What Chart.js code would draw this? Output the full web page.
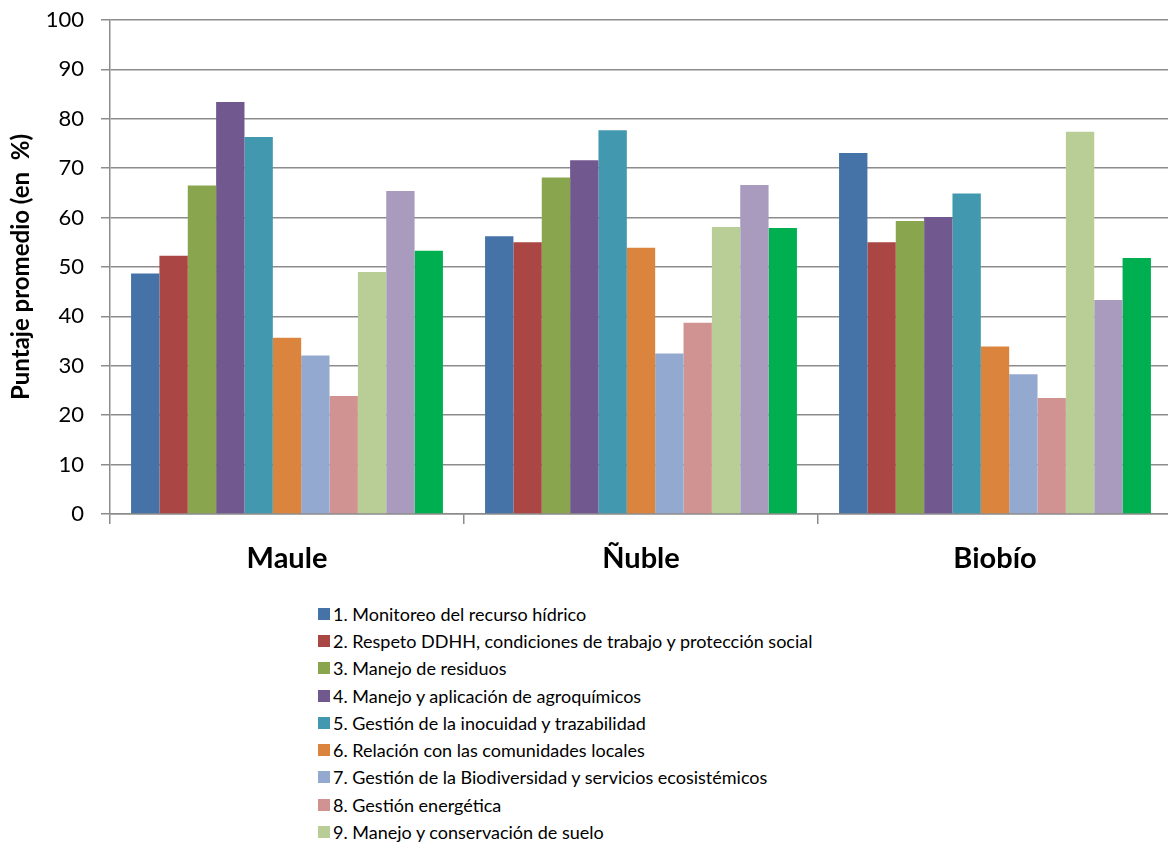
<!DOCTYPE html>
<html lang="es">
<head>
<meta charset="utf-8">
<title>Puntaje promedio por región</title>
<script src="https://cdn.jsdelivr.net/npm/chart.js@4/dist/chart.umd.min.js"></script>
<style>
    html, body { margin: 0; padding: 0; background: #fff; overflow: hidden; }
    #wrap { position: relative; width: 1172px; height: 590px; }
    #legend { position: absolute; left: 318px; top: 600px; font-family: Lato, sans-serif; font-size: 18px; color: #000; }
    .item { display: flex; align-items: center; height: 27.3px; white-space: nowrap; }
    .box { width: 12px; height: 12px; margin-right: 3px; flex: none; }
</style>
</head>
<body>
<div id="wrap"><canvas id="chart"></canvas></div>
<div id="legend"></div>
<script>
// Categories (regions)
const regions = ['Maule', 'Ñuble', 'Biobío'];

// Series values per region (Maule, Ñuble, Biobío)
const hidrico       = [48.7, 56.2, 73.1];
const ddhh          = [52.3, 55.0, 55.0];
const residuos      = [66.5, 68.1, 59.3];
const agroquimicos  = [83.4, 71.6, 60.1];
const inocuidad     = [76.3, 77.7, 64.9];
const comunidades   = [35.7, 53.9, 33.9];
const biodiversidad = [32.1, 32.5, 28.3];
const energetica    = [23.9, 38.7, 23.5];
const suelo         = [49.0, 58.1, 77.4];
const serie10       = [65.4, 66.6, 43.3];
const serie11       = [53.3, 57.9, 51.8];

const seriesNames = [
    '1. Monitoreo del recurso hídrico',
    '2. Respeto DDHH, condiciones de trabajo y protección social',
    '3. Manejo de residuos',
    '4. Manejo y aplicación de agroquímicos',
    '5. Gestión de la inocuidad y trazabilidad',
    '6. Relación con las comunidades locales',
    '7. Gestión de la Biodiversidad y servicios ecosistémicos',
    '8. Gestión energética',
    '9. Manejo y conservación de suelo',
    '10.',
    '11.'
];
const seriesColors = ['#4572A7', '#AA4643', '#89A54E', '#71588F', '#4198AF', '#DB843D',
                      '#93A9CF', '#D19392', '#B9CD96', '#A99BBD', '#00B050'];
const seriesValues = [hidrico, ddhh, residuos, agroquimicos, inocuidad, comunidades,
                      biodiversidad, energetica, suelo, serie10, serie11];

// Y axis ticks
const yMin = 0, yMax = 100, yStep = 10;

const gridColor = '#8c8c8c';

const datasets = seriesValues.map((vals, i) => ({
    label: seriesNames[i],
    data: vals,
    backgroundColor: seriesColors[i],
    borderWidth: 0,
    categoryPercentage: 0.881,
    barPercentage: 1.0
}));

const chart = new Chart(document.getElementById('chart'), {
    type: 'bar',
    data: { labels: regions, datasets: datasets },
    options: {
        responsive: true,
        maintainAspectRatio: false,
        animation: false,
        layout: { padding: { top: 20, right: 0, bottom: 0, left: 0 } },
        plugins: {
            legend: { display: false },
            tooltip: { enabled: false }
        },
        scales: {
            x: {
                offset: true,
                grid: { display: true, drawOnChartArea: false, drawTicks: true, tickLength: 10, offset: true, color: gridColor, lineWidth: 1.5 },
                border: { color: gridColor, width: 1.5 },
                ticks: { color: '#000', font: { family: 'Lato', size: 29, weight: 'bold' }, padding: 17 },
                afterFit(scale) { scale.height = 76; }
            },
            y: {
                min: yMin,
                max: yMax,
                grid: { color: gridColor, lineWidth: 1.5, tickLength: 9 },
                border: { color: gridColor, width: 1.5 },
                ticks: { stepSize: yStep, color: '#000', font: { family: 'Lato', size: 22 }, padding: 17 },
                title: {
                    display: true,
                    text: 'Puntaje promedio (en  %)',
                    color: '#000',
                    font: { family: 'Lato', size: 24, weight: 'bold' },
                    padding: { top: 7, bottom: 0 }
                },
                afterFit(scale) {
                    scale.width = 110;
                    // keep the plot top fixed by the layout padding alone
                    scale.paddingTop = 0;
                    scale.paddingBottom = 0;
                }
            }
        }
    }
});

// Single-column legend built from the chart's datasets
const legendEl = document.getElementById('legend');
legendEl.innerHTML = chart.data.datasets.map(ds =>
    `<div class="item"><span class="box" style="background:${ds.backgroundColor}"></span><span>${ds.label}</span></div>`
).join('');
</script>
</body>
</html>
